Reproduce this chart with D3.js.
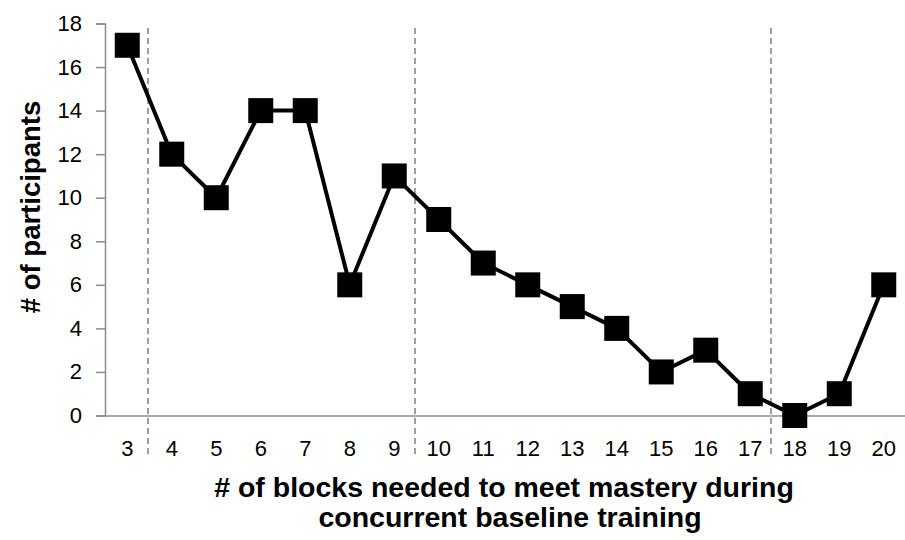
<!DOCTYPE html>
<html>
<head>
<meta charset="utf-8">
<script src="https://cdn.jsdelivr.net/npm/d3@7"></script>
<style>
  body { margin: 0; background: #fff; }
  text { font-family: Arial, "Liberation Sans", sans-serif; }
</style>
</head>
<body>
<svg id="chart" width="905" height="540"></svg>
<script>
// blocks needed (categories) and number of participants
var blocks = [3, 4, 5, 6, 7, 8, 9, 10, 11, 12, 13, 14, 15, 16, 17, 18, 19, 20];
var participants = [17, 12, 10, 14, 14, 6, 11, 9, 7, 6, 5, 4, 2, 3, 1, 0, 1, 6];
var yTicks = [0, 2, 4, 6, 8, 10, 12, 14, 16, 18];
// dashed separators sit between these pairs of blocks
var splitsAfter = [3, 9, 17];

var svg = d3.select("#chart");
var mLeft = 105, mRight = 906, mTop = 23.5, mBottom = 415.5;
var font = "Arial, 'Liberation Sans', sans-serif";

var x = d3.scaleBand().domain(blocks).range([mLeft, mRight]);
var y = d3.scaleLinear().domain([0, 18]).range([mBottom, mTop]);

// y axis
var yAxis = svg.append("g")
    .attr("transform", "translate(" + mLeft + ",0)")
    .call(d3.axisLeft(y).tickValues(yTicks).tickSize(9).tickPadding(14));
yAxis.select(".domain").attr("stroke", "#8c8c8c").attr("stroke-width", 1.5);
yAxis.selectAll(".tick line").attr("stroke", "#8c8c8c").attr("stroke-width", 1.5);
yAxis.selectAll(".tick text").attr("font-size", 22).attr("fill", "#000")
    .attr("font-family", font);

// x axis
var xAxis = svg.append("g")
    .attr("transform", "translate(0," + mBottom + ")")
    .call(d3.axisBottom(x).tickSize(0).tickPadding(25).tickSizeOuter(0));
xAxis.select(".domain").attr("stroke", "#8c8c8c").attr("stroke-width", 1.5);
xAxis.selectAll(".tick text").attr("font-size", 22).attr("fill", "#000")
    .attr("font-family", font);

// dashed separators
svg.selectAll("line.split")
    .data(splitsAfter)
    .enter()
    .append("line")
    .attr("class", "split")
    .attr("x1", d => x(d) + x.bandwidth() - 1.5)
    .attr("x2", d => x(d) + x.bandwidth() - 1.5)
    .attr("y1", 28)
    .attr("y2", 456)
    .attr("stroke", "#7f7f7f")
    .attr("stroke-width", 1.5)
    .attr("stroke-dasharray", "6,4");

var pts = blocks.map((b, i) => ({ b: b, v: participants[i] }));

svg.append("path")
    .datum(pts)
    .attr("fill", "none")
    .attr("stroke", "#000")
    .attr("stroke-width", 4)
    .attr("stroke-linejoin", "round")
    .attr("d", d3.line()
        .x(d => x(d.b) + x.bandwidth() / 2)
        .y(d => y(d.v)));

var s = 25;
svg.selectAll("rect.mark")
    .data(pts)
    .enter()
    .append("rect")
    .attr("class", "mark")
    .attr("x", d => x(d.b) + x.bandwidth() / 2 - s / 2)
    .attr("y", d => y(d.v) - s / 2)
    .attr("width", s)
    .attr("height", s)
    .attr("fill", "#000");

// axis titles
svg.append("text")
    .attr("transform", "translate(40,207) rotate(-90)")
    .attr("text-anchor", "middle")
    .attr("font-size", 27.5)
    .attr("font-weight", "bold")
    .text("# of participants");

svg.append("text")
    .attr("x", 504)
    .attr("y", 497)
    .attr("text-anchor", "middle")
    .attr("font-size", 28.5)
    .attr("font-weight", "bold")
    .text("# of blocks needed to meet mastery during");

svg.append("text")
    .attr("x", 510)
    .attr("y", 527)
    .attr("text-anchor", "middle")
    .attr("font-size", 28.5)
    .attr("font-weight", "bold")
    .text("concurrent baseline training");
</script>
</body>
</html>
